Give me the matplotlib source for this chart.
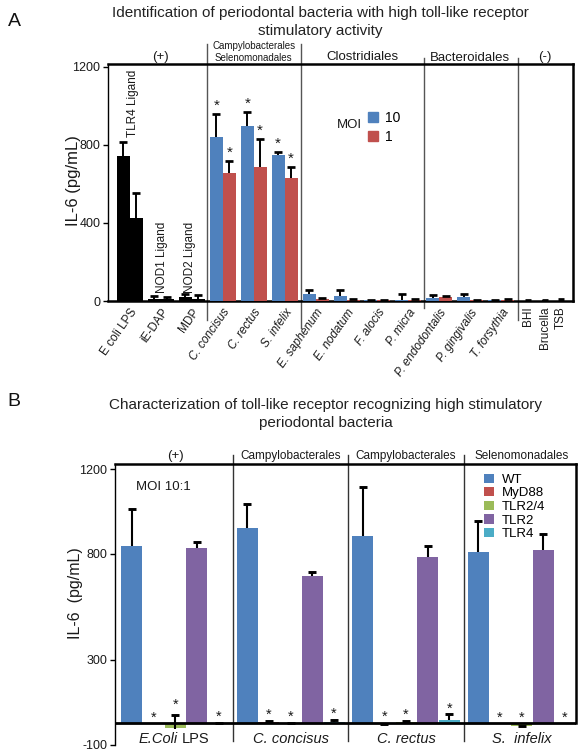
import matplotlib
matplotlib.use('Agg')
import matplotlib.pyplot as plt
from matplotlib.patches import Patch
import numpy as np

plt.rcParams['font.family'] = ['Liberation Sans', 'DejaVu Sans']

# ---------------- Panel A data ----------------
a_categories = ['E coli LPS', 'iE-DAP', 'MDP', 'C. concisus', 'C. rectus', 'S. infelix',
                'E. saphenum', 'E. nodatum', 'F. alocis', 'P. micra', 'P. endodontalis',
                'P. gingivalis', 'T. forsythia']
a_moi10 = [742, 10, 20, 841, 896, 747, 34, 26, 3, 7, 17, 20, 3]
a_moi10_err = [72, 15, 18, 116, 73, 17, 21, 30, 2, 27, 14, 18, 2]
a_moi1 = [424, 10, 12, 656, 687, 632, 10, 7, 5, 7, 20, 5, 6]
a_moi1_err = [132, 10, 18, 60, 145, 55, 3, 3, 2, 3, 5, 2, 2]
a_neg_categories = ['BHI', 'Brucella', 'TSB']
a_neg_values = [4, 3, 6]
a_neg_err = [1, 1, 2]
a_groups = ['(+)', 'Clostridiales', 'Bacteroidales', '(-)']
a_group2 = ['Campylobacterales', 'Selenomonadales']
a_ligands = ['TLR4 Ligand', 'NOD1 Ligand', 'NOD2 Ligand']
a_yticks = [0, 400, 800, 1200]
a_legend = ['10', '1']

# ---------------- Panel B data ----------------
b_groups = ['E.Coli LPS', 'C. concisus', 'C. rectus', 'S.  infelix']
b_headers = ['(+)', 'Campylobacterales', 'Campylobacterales', 'Selenomonadales']
b_strains = ['WT', 'MyD88', 'TLR2/4', 'TLR2', 'TLR4']
b_wt = [839, 924, 886, 811]
b_wt_err = [174, 113, 231, 146]
b_myd88 = [-2, 6, -2, 0]
b_myd88_err = [0, 6, 1, 0]
b_tlr24 = [-20, 0, 5, -12]
b_tlr24_err = [58, 1, 6, 0]
b_tlr24_err_low = [8, 0, 0, 6]
b_tlr2 = [829, 697, 787, 820]
b_tlr2_err = [29, 19, 52, 75]
b_tlr4 = [2, 5, 18, 0]
b_tlr4_err = [2, 10, 24, 0]
b_yticks = [-100, 300, 800, 1200]

BLUE, RED, GREEN, PURPLE, CYAN = '#4F81BD', '#C0504D', '#9BBB59', '#8064A2', '#4BACC6'
TXT = '#1a1a1a'

W, H = 579, 752
fig = plt.figure(figsize=(W / 100, H / 100), dpi=100)


def up_err(ax, x, top, err, low=0, cap=6, lw=1.4):
    if err <= 0 and low <= 0:
        return
    ax.vlines(x, top - low, top + err, color='black', lw=lw, zorder=4)
    ax.plot([x], [top + err], marker='_', ms=cap, mew=lw * 1.4, color='black', zorder=4)


# ================= Panel A =================
axA = fig.add_axes([108 / W, 1 - 301 / H, (573 - 108) / W, (301 - 64) / H])
n = len(a_categories)
x = np.arange(n)
bw = 0.42
colors10 = ['black'] * 3 + [BLUE] * (n - 3)
colors1 = ['black'] * 3 + [RED] * (n - 3)
axA.bar(x - bw / 2, a_moi10, width=bw, color=colors10, zorder=3)
axA.bar(x + bw / 2, a_moi1, width=bw, color=colors1, zorder=3)
for i in range(n):
    up_err(axA, x[i] - bw / 2, a_moi10[i], a_moi10_err[i])
    up_err(axA, x[i] + bw / 2, a_moi1[i], a_moi1_err[i])

xneg = 12.87 + 0.535 * np.arange(len(a_neg_categories))
axA.bar(xneg, a_neg_values, width=0.17, color='black', zorder=3)
for i in range(len(xneg)):
    up_err(axA, xneg[i], a_neg_values[i], a_neg_err[i], cap=5)

# stars
for i in [3, 4, 5]:
    for dx, v, e in [(-bw / 2, a_moi10[i], a_moi10_err[i]), (bw / 2, a_moi1[i], a_moi1_err[i])]:
        axA.annotate('*', (x[i] + dx, v + e), xytext=(0, 3), textcoords='offset points',
                     ha='center', va='baseline', fontsize=11, color=TXT)

# ligand annotations
axA.text(0.11, 841, a_ligands[0], rotation=90, ha='center', va='bottom', fontsize=8.5, color=TXT)
axA.text(1.02, 41, a_ligands[1], rotation=90, ha='center', va='bottom', fontsize=8.5, color=TXT)
axA.text(1.95, 41, a_ligands[2], rotation=90, ha='center', va='bottom', fontsize=8.5, color=TXT)

axA.set_xlim(-0.71, 14.32)
axA.set_ylim(0, 1215)
axA.set_yticks(a_yticks)
axA.set_yticklabels([str(t) for t in a_yticks], fontsize=9, color=TXT)
axA.tick_params(axis='y', direction='out', length=3.5, width=1, pad=2)
ticks = list(x) + list(xneg)
axA.set_xticks(ticks)
axA.set_xticklabels(a_categories + a_neg_categories, fontsize=8.5, color=TXT)
axA.tick_params(axis='x', length=0, pad=4)
for k, lbl in enumerate(axA.get_xticklabels()):
    if k < n:
        lbl.set_rotation(55)
        lbl.set_ha('right')
        lbl.set_va('top')
        lbl.set_rotation_mode('anchor')
        if k >= 3:
            lbl.set_style('italic')
    else:
        lbl.set_rotation(90)
        lbl.set_ha('center')
        lbl.set_va('top')
for s in ['top', 'right', 'bottom']:
    axA.spines[s].set_linewidth(1.8)
axA.spines['left'].set_linewidth(1.0)
axA.set_ylabel('IL-6 (pg/mL)', fontsize=12, color=TXT)
axA.yaxis.set_label_coords(-0.058, 0.51)

# separators
for xs, top, bot in [(2.5, 1318, -97), (5.53, 1318, -138), (9.51, 1246, -36), (12.55, 1246, -97)]:
    axA.plot([xs, xs], [bot, top], color='#555555', lw=1.0, clip_on=False, zorder=2)

# group headers
axA.text(1.0, 1222, a_groups[0], ha='center', va='bottom', fontsize=9.5, color=TXT, clip_on=False)
axA.text(4.0, 1222, a_group2[0] + '\n' + a_group2[1], ha='center', va='bottom', fontsize=7,
         color=TXT, linespacing=1.2, clip_on=False)
axA.text(7.5, 1222, a_groups[1], ha='center', va='bottom', fontsize=9.5, color=TXT, clip_on=False)
axA.text(11.0, 1215, a_groups[2], ha='center', va='bottom', fontsize=9.5, color=TXT, clip_on=False)
axA.text(13.4, 1222, a_groups[3], ha='center', va='bottom', fontsize=9.5, color=TXT, clip_on=False)

# legend
axA.text(6.69, 903, 'MOI', ha='left', va='center', fontsize=9.5, color=TXT)
legA = axA.legend(handles=[Patch(color=BLUE), Patch(color=RED)], labels=a_legend,
                  loc='upper left', bbox_to_anchor=(0.544, 0.83), frameon=False, borderpad=0,
                  handlelength=0.75, handleheight=0.75, handletextpad=0.5, labelspacing=0.35,
                  fontsize=10)

fig.text(0.553, 1 - 6 / H, 'Identification of periodontal bacteria with high toll-like receptor\nstimulatory activity',
         ha='center', va='top', fontsize=11, color='#222222', linespacing=1.35)
fig.text(14 / W, 1 - 21 / H, 'A', ha='center', va='center', fontsize=14, color='#111111')

# ================= Panel B =================
axB = fig.add_axes([115 / W, 1 - 745 / H, (576 - 115) / W, (745 - 464) / H])
gsp = 5.32
bwB = 0.97
series = [(b_wt, b_wt_err, None, BLUE), (b_myd88, b_myd88_err, None, RED),
          (b_tlr24, b_tlr24_err, b_tlr24_err_low, GREEN), (b_tlr2, b_tlr2_err, None, PURPLE),
          (b_tlr4, b_tlr4_err, None, CYAN)]
gx = np.arange(len(b_groups)) * gsp
for si, (vals, errs, lows, col) in enumerate(series):
    xs = gx + si + 0.5
    axB.bar(xs, vals, width=bwB, color=col, zorder=3, label=b_strains[si])
    for g in range(len(b_groups)):
        low = lows[g] if lows is not None else 0
        up_err(axB, xs[g], vals[g], errs[g], low=low, cap=6, lw=1.5)
    if si in (1, 2, 4):
        for g in range(len(b_groups)):
            top = max(vals[g], 0) + errs[g]
            axB.annotate('*', (xs[g], top), xytext=(0, 1.5), textcoords='offset points',
                         ha='center', va='baseline', fontsize=10.5, color=TXT)

axB.axhline(0, color='black', lw=2.0, zorder=5)
axB.set_xlim(-0.276, 20.97)
axB.set_ylim(-102, 1224)
axB.set_yticks(b_yticks)
axB.set_yticklabels([str(t) for t in b_yticks], fontsize=9, color=TXT)
axB.tick_params(axis='y', direction='out', length=3.5, width=1, pad=2)
axB.set_xticks([])
axB.spines['bottom'].set_visible(False)
axB.spines['right'].set_visible(False)
axB.spines['top'].set_linewidth(1.8)
axB.spines['left'].set_linewidth(1.0)
axB.plot([20.97, 20.97], [0, 1224], color='black', lw=1.8, clip_on=False, zorder=5)
axB.set_ylabel('IL-6  (pg/mL)', fontsize=11.5, color=TXT)
axB.yaxis.set_label_coords(-0.069, 0.54)

for xs in [5.16, 10.48, 15.8]:
    axB.plot([xs, xs], [-85, 1268], color='#333333', lw=1.0, clip_on=False, zorder=2)

for g in range(len(b_groups)):
    axB.text(gx[g] + 2.5, 1232, b_headers[g], ha='center', va='bottom', fontsize=8.5 if g else 9.5,
             color=TXT, clip_on=False)
# group labels under bars
first_it, first_rm = b_groups[0].split(' ')
axB.annotate(first_it, (gx[0] + 2.5, -72), xytext=(2, 0), textcoords='offset points',
             ha='right', va='center', fontsize=10.5, style='italic', color=TXT)
axB.annotate(first_rm, (gx[0] + 2.5, -72), xytext=(4.5, 0), textcoords='offset points',
             ha='left', va='center', fontsize=10.5, color=TXT)
for g in range(1, len(b_groups)):
    axB.text(gx[g] + 2.5, -72, b_groups[g], ha='center', va='center', fontsize=10.5,
             style='italic', color=TXT)

axB.text(0.69, 1115, 'MOI 10:1', ha='left', va='center', fontsize=9.5, color=TXT)
axB.legend(loc='upper left', bbox_to_anchor=(0.787, 0.989), frameon=False, borderpad=0,
           handlelength=0.7, handleheight=0.7, handletextpad=0.6, labelspacing=0.1, fontsize=9.5)

fig.text(0.562, 1 - 398 / H, 'Characterization of toll-like receptor recognizing high stimulatory\nperiodontal bacteria',
         ha='center', va='top', fontsize=11, color='#222222', linespacing=1.4)
fig.text(14 / W, 1 - 402 / H, 'B', ha='center', va='center', fontsize=14, color='#111111')

fig.savefig('out.png', dpi=100)
